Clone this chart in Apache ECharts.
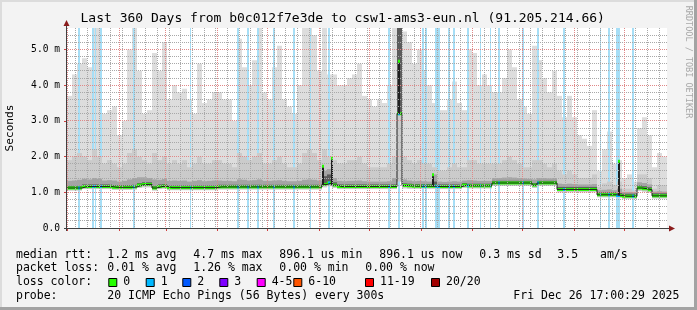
<!DOCTYPE html>
<html><head><meta charset="utf-8">
<script src="https://cdn.jsdelivr.net/npm/echarts@6/dist/echarts.min.js"></script>
<style>html,body{margin:0;padding:0;background:#f3f3f3}#c{width:697px;height:310px}</style>
</head><body><div id="c"></div>
<script>
// ================= DATA =================
// x unit: days since start of graph (2024-12-31 17:00); graph spans 360 days
const monthStartDoy = [0,31,59,90,120,151,181,212,243,273,304,334];   // day of 2025 at which each month starts
const monthLengths  = [31,28,31,30,31,30,31,31,30,31,30,31];
const monthLabels   = ['January 2025','','March 2025','','May 2025','','July 2025','','September 2025','','November 2025',''];
const firstMondayDoy = 5;   // 2025-01-06
const yMajorTicks = [0,1,2,3,4,5];

// 3-day bins, 120 bins; values in milliseconds
const maxRtt = [3.7,4.3,4.6,4.75,4.5,5.6,5.6,3.2,3.3,3.4,
 2.6,3.0,5.0,5.6,4.4,3.2,3.3,4.9,4.4,5.2,
 3.6,4.0,3.8,3.9,3.6,3.2,4.6,3.5,3.6,3.8,
 3.8,3.6,3.6,3.0,5.3,4.5,4.0,4.7,5.6,3.8,
 3.6,4.5,5.1,3.6,3.4,3.2,4.0,5.6,5.6,5.4,
 4.4,5.6,4.3,4.3,4.0,4.0,4.2,4.3,4.6,3.7,
 3.6,3.4,3.6,3.5,4.0,5.6,5.6,5.5,5.2,4.6,
 5.0,4.4,4.0,3.5,3.3,3.3,3.6,4.1,3.5,3.3,
 5.0,4.9,4.0,4.3,4.0,3.8,3.8,4.2,5.0,4.5,
 3.6,3.4,3.2,5.1,4.7,4.2,3.8,4.4,3.7,3.1,
 3.7,3.1,2.6,2.5,2.3,3.3,1.6,2.2,2.7,1.8,
 1.9,1.4,1.5,1.3,2.8,3.1,2.6,1.7,2.1,2.0];
const smokeMid = [1.9,2.0,2.1,2.0,1.9,2.2,2.0,1.8,1.9,1.8,
 1.7,1.8,2.1,2.2,2.0,1.9,1.8,2.1,1.9,2.0,
 1.8,1.9,1.8,1.9,1.7,1.8,2.0,1.8,1.8,1.9,
 1.9,1.8,1.8,1.7,2.1,2.0,1.9,2.0,2.1,1.8,
 1.8,1.9,2.0,1.8,1.7,1.7,1.8,2.1,2.2,2.1,
 1.9,2.2,2.0,1.9,1.8,1.8,1.9,1.9,2.0,1.8,
 1.7,1.7,1.7,1.7,1.8,2.0,5.6,2.0,1.9,1.8,
 1.9,1.8,1.8,1.7,1.6,1.6,1.7,1.8,1.7,1.7,
 1.9,1.9,1.8,1.8,1.8,1.8,1.8,1.9,2.0,1.9,
 1.8,1.7,1.7,1.9,1.9,1.8,1.7,1.8,1.6,1.5,
 1.6,1.5,1.4,1.4,1.4,1.5,1.15,1.25,1.3,1.2,
 1.3,1.1,1.1,1.05,1.5,1.5,1.4,1.1,1.2,1.2];
const smokeInner = [1.32,1.33,1.35,1.38,1.36,1.40,1.38,1.33,1.34,1.33,
 1.30,1.32,1.36,1.40,1.42,1.42,1.40,1.36,1.35,1.37,
 1.32,1.33,1.32,1.33,1.30,1.32,1.34,1.31,1.32,1.33,
 1.33,1.32,1.32,1.31,1.36,1.35,1.33,1.34,1.36,1.32,
 1.32,1.33,1.34,1.32,1.31,1.31,1.32,1.35,1.36,1.35,
 1.33,1.60,1.65,1.40,1.32,1.31,1.32,1.32,1.33,1.31,
 1.30,1.30,1.30,1.30,1.31,1.40,5.60,1.36,1.33,1.31,
 1.32,1.31,1.30,1.50,1.30,1.29,1.30,1.31,1.30,1.33,
 1.34,1.33,1.32,1.32,1.32,1.40,1.40,1.41,1.42,1.41,
 1.40,1.39,1.38,1.36,1.40,1.40,1.39,1.40,1.24,1.23,
 1.24,1.23,1.22,1.22,1.22,1.23,1.06,1.07,1.08,1.06,
 1.10,1.01,1.01,1.00,1.28,1.26,1.22,1.02,1.03,1.02];
const smokeCore = [1.18,1.18,1.18,1.22,1.22,1.22,1.22,1.22,1.22,1.20,
 1.20,1.20,1.20,1.21,1.26,1.28,1.28,1.18,1.22,1.23,
 1.19,1.19,1.19,1.19,1.19,1.19,1.19,1.19,1.19,1.19,
 1.21,1.21,1.21,1.21,1.21,1.21,1.21,1.21,1.21,1.21,
 1.21,1.21,1.21,1.21,1.21,1.21,1.21,1.21,1.21,1.21,
 1.21,1.45,1.50,1.28,1.22,1.22,1.22,1.22,1.22,1.22,
 1.22,1.22,1.22,1.22,1.22,1.22,5.60,1.25,1.24,1.23,
 1.23,1.23,1.23,1.30,1.22,1.22,1.22,1.22,1.22,1.26,
 1.24,1.24,1.24,1.24,1.24,1.32,1.32,1.32,1.32,1.32,
 1.32,1.32,1.32,1.26,1.32,1.32,1.32,1.32,1.15,1.15,
 1.15,1.15,1.15,1.15,1.15,1.15,1.00,1.00,1.00,1.00,
 0.98,0.96,0.96,0.96,1.19,1.17,1.14,0.97,0.97,0.97];
const medianRtt = [1.12,1.12,1.12,1.16,1.16,1.16,1.16,1.16,1.16,1.14,
 1.14,1.14,1.14,1.15,1.20,1.22,1.22,1.12,1.16,1.17,
 1.13,1.13,1.13,1.13,1.13,1.13,1.13,1.13,1.13,1.13,
 1.15,1.15,1.15,1.15,1.15,1.15,1.15,1.15,1.15,1.15,
 1.15,1.15,1.15,1.15,1.15,1.15,1.15,1.15,1.15,1.15,
 1.15,1.22,1.26,1.20,1.16,1.16,1.16,1.16,1.16,1.16,
 1.16,1.16,1.16,1.16,1.16,1.16,3.20,1.19,1.18,1.17,
 1.17,1.17,1.17,1.17,1.16,1.16,1.16,1.16,1.16,1.20,
 1.18,1.18,1.18,1.18,1.18,1.26,1.26,1.26,1.26,1.26,
 1.26,1.26,1.26,1.20,1.26,1.26,1.26,1.26,1.08,1.08,
 1.08,1.08,1.08,1.08,1.08,1.08,0.93,0.93,0.93,0.93,
 0.91,0.89,0.89,0.89,1.12,1.10,1.07,0.90,0.90,0.90];
const minRtt = [1.05,1.05,1.05,1.09,1.09,1.09,1.09,1.09,1.09,1.07,
 1.07,1.07,1.07,1.08,1.12,1.14,1.14,1.05,1.09,1.10,
 1.06,1.06,1.06,1.06,1.06,1.06,1.06,1.06,1.06,1.06,
 1.08,1.08,1.08,1.08,1.08,1.08,1.08,1.08,1.08,1.08,
 1.08,1.08,1.08,1.08,1.08,1.08,1.08,1.08,1.08,1.08,
 1.08,1.14,1.17,1.12,1.09,1.09,1.09,1.09,1.09,1.09,
 1.09,1.09,1.09,1.09,1.09,1.09,1.30,1.11,1.10,1.10,
 1.10,1.10,1.10,1.10,1.09,1.09,1.09,1.09,1.09,1.12,
 1.11,1.11,1.11,1.11,1.11,1.18,1.18,1.18,1.18,1.18,
 1.18,1.18,1.18,1.12,1.18,1.18,1.18,1.18,1.00,1.00,
 1.00,1.00,1.00,1.00,1.00,1.00,0.86,0.86,0.86,0.86,
 0.84,0.82,0.82,0.82,1.04,1.02,1.00,0.83,0.83,0.83];
// single 12h median spikes: day since start, value (ms)
const spikeDays   = [153.6, 159.0, 199.2, 219.6, 330.9];
const spikeValues = [1.73, 1.95, 4.67, 1.49, 1.87];
// time slots with packet loss (1/20) : day since start
const lossDays = [7,15.5,17,20.5,40,74,102.5,108.5,114.5,124,136,146,157,193,199,213.5,215.5,221.5,222.5,223.5,
                  229,232,240.5,248,254,259,273.5,282.5,298,320,325,330,331,339.5];

const titleText = 'Last 360 Days from b0c012f7e3de to csw1-ams3-eun.nl (91.205.214.66)';
const legendRows = [
  ['median rtt:', '1.2 ms avg', '4.7 ms max', '896.1 us min', '896.1 us now', '0.3 ms sd', '3.5', 'am/s'],
  ['packet loss:', '0.01 % avg', '1.26 % max', '0.00 % min', '0.00 % now'],
  ['probe:', '20 ICMP Echo Pings (56 Bytes) every 300s', 'Fri Dec 26 17:00:29 2025']
];
const lossColorLabels = ['0','1','2','3','4-5','6-10','11-19','20/20'];
const lossColors = ['#26ff00','#00b8ff','#0059ff','#7e00ff','#ff00ff','#ff5500','#ff0000','#a10000'];

// ================= LAYOUT / STYLE =================
const START_OFFSET = 7/24;  // graph starts at 17:00 of previous day
const BIN = 3, X_MAX = 360, Y_MAX = 5.6;
const G = {left: 67, top: 28, width: 600, height: 200};
const LOSS_BG = '#a6def6';
const MGRID = '#e08888', MINGRID = '#a8a8a8';

const monthTicks = monthStartDoy.map(d => d + START_OFFSET);
const labelPos = [], labelTxt = [];
monthStartDoy.forEach((d, i) => { if (monthLabels[i]) { labelPos.push(d + monthLengths[i] / 2 + START_OFFSET); labelTxt.push(monthLabels[i]); } });
const weekTicks = [];
for (let d = firstMondayDoy; d < 360; d += 7) weekTicks.push(d + START_OFFSET);
const yMinorTicks = [];
for (let k = 1; k < 28; k++) { if (k % 5) yMinorTicks.push(k / 5); }
const yMajorLines = yMajorTicks.filter(v => v > 0);

function band(lo, hi, color) {
  return {
    type: 'custom', silent: true, clip: true, z: 2,
    data: hi.map((h, i) => [i * BIN, (i + 1) * BIN, lo[i], Math.min(h, Y_MAX)]),
    renderItem: (p, api) => {
      const a = api.coord([api.value(0), api.value(3)]);
      const b = api.coord([api.value(1), api.value(2)]);
      const x0 = Math.round(a[0]), x1 = Math.round(b[0]);
      return {type: 'rect', shape: {x: x0, y: a[1], width: x1 - x0, height: b[1] - a[1]}, style: {fill: color}};
    }
  };
}
function medianBand(color, days, vals, w) {
  return {
    type: 'custom', silent: true, clip: true, z: 3,
    data: days.map((d, i) => [d, d + w, vals[i]]),
    renderItem: (p, api) => {
      const a = api.coord([api.value(0), api.value(2)]);
      const b = api.coord([api.value(1), api.value(2)]);
      const x0 = Math.round(a[0]), x1 = Math.max(Math.round(b[0]), x0 + 1);
      return {type: 'rect', shape: {x: x0, y: a[1] - 1.5, width: x1 - x0, height: 3}, style: {fill: color}};
    }
  };
}
// dotted grid lines, drawn as rows of 1px dots (like rrdtool's grid-dash 1:1)
function dottedV(values, color, z) {
  return {
    type: 'custom', silent: true, clip: false, z: z,
    data: values.map((v, i) => [v, Y_MAX / 2]),
    renderItem: (p, api) => {
      const x = Math.floor(api.coord([values[p.dataIndex], 0])[0]);
      const yTop = Math.round(api.coord([0, Y_MAX])[1]), yBot = Math.round(api.coord([0, 0])[1]);
      const dots = [];
      for (let y = yTop; y < yBot; y += 2) dots.push({type: 'rect', shape: {x: x, y: y, width: 1, height: 1}, style: {fill: color}});
      return {type: 'group', children: dots};
    }
  };
}
function dottedH(values, color, z) {
  return {
    type: 'custom', silent: true, clip: false, z: z,
    data: values.map((v, i) => [X_MAX / 2, v]),
    renderItem: (p, api) => {
      const y = Math.floor(api.coord([0, values[p.dataIndex]])[1]);
      const xL = Math.round(api.coord([0, 0])[0]), xR = Math.round(api.coord([X_MAX, 0])[0]);
      const dots = [];
      for (let x = xL + 1; x < xR; x += 2) dots.push({type: 'rect', shape: {x: x, y: y, width: 1, height: 1}, style: {fill: color}});
      return {type: 'group', children: dots};
    }
  };
}
const binStarts = medianRtt.map((m, i) => i * BIN);
const medAt = d => medianRtt[Math.min(medianRtt.length - 1, Math.floor(d / BIN))];

const series = [
  band(minRtt, maxRtt, '#dddddd'),
  {
    type: 'custom', silent: true, clip: true, z: 2,
    data: lossDays.map(d => [d, 0]),
    renderItem: (p, api) => {
      const cs = p.coordSys;
      const a = api.coord([api.value(0) - 0.5, 0]);
      const b = api.coord([api.value(0) + 0.5, 0]);
      const x0 = Math.round(a[0]), x1 = Math.max(Math.round(b[0]), x0 + 1);
      return {type: 'rect', shape: {x: x0, y: cs.y, width: x1 - x0, height: cs.height}, style: {fill: LOSS_BG}};
    }
  },
  band(minRtt, smokeMid, '#cbcbcb'),
  band(medianRtt, smokeInner, '#a4a4a4'),
  band(medianRtt, smokeCore, '#5c5c5c'),
  {
    type: 'line', step: 'end', symbol: 'none', silent: true, z: 3,
    data: binStarts.map((x, i) => [x, medianRtt[i]]).concat([[X_MAX, medianRtt[medianRtt.length - 1]]]),
    lineStyle: {color: '#202020', width: 1}
  },
  medianBand(lossColors[0], binStarts, medianRtt, BIN),
  medianBand(lossColors[1], lossDays.map(d => d - 0.5), lossDays.map(medAt), 1),
  {
    type: 'custom', silent: true, clip: true, z: 3,
    data: spikeDays.map((d, i) => [d, spikeValues[i], medAt(d)]),
    renderItem: (p, api) => {
      const top = api.coord([api.value(0), api.value(1)]);
      const bot = api.coord([api.value(0), api.value(2)]);
      const x = Math.round(top[0]);
      return {type: 'group', children: [
        {type: 'rect', shape: {x: x - 1, y: top[1], width: 2, height: bot[1] - top[1]}, style: {fill: '#202020'}},
        {type: 'rect', shape: {x: x - 1, y: top[1] - 1.5, width: 2, height: 3}, style: {fill: lossColors[0]}}
      ]};
    }
  },
  dottedV(weekTicks, MINGRID, 4),
  dottedH(yMinorTicks, MINGRID, 4),
  dottedV(monthTicks, MGRID, 5),
  dottedH(yMajorLines, MGRID, 5)
];

const graphic = [
  {type: 'rect', z: 100, shape: {x: 0, y: 0, width: 697, height: 2}, style: {fill: '#dcdcdc'}},
  {type: 'rect', z: 100, shape: {x: 0, y: 0, width: 2, height: 310}, style: {fill: '#dcdcdc'}},
  {type: 'rect', z: 100, shape: {x: 0, y: 307, width: 697, height: 3}, style: {fill: '#a3a3a3'}},
  {type: 'rect', z: 100, shape: {x: 694, y: 0, width: 3, height: 310}, style: {fill: '#a3a3a3'}},
  // axes with arrows
  {type: 'line', z: 100, shape: {x1: 66.5, y1: 231, x2: 66.5, y2: 24}, style: {stroke: '#404040', lineWidth: 1}},
  {type: 'polygon', z: 100, shape: {points: [[63.5, 26], [69.5, 26], [66.5, 20]]}, style: {fill: '#8b1c1c'}},
  {type: 'line', z: 100, shape: {x1: 64, y1: 228.5, x2: 670, y2: 228.5}, style: {stroke: '#404040', lineWidth: 1}},
  {type: 'polygon', z: 100, shape: {points: [[669, 225.5], [669, 231.5], [675, 228.5]]}, style: {fill: '#8b1c1c'}},
  {type: 'text', z: 100, x: 80.5, y: 19, style: {text: titleText, font: '13px "DejaVu Sans Mono"', fill: '#000', verticalAlign: 'middle'}},
  {type: 'text', z: 100, x: 10, y: 128, rotation: Math.PI / 2, style: {text: 'Seconds', font: '11.1px "DejaVu Sans Mono"', fill: '#000', align: 'center', verticalAlign: 'middle'}},
  {type: 'text', z: 100, x: 688, y: 62, rotation: -Math.PI / 2, style: {text: 'RRDTOOL / TOBI OETIKER', font: '8.5px "DejaVu Sans Mono"', fill: '#a8a8a8', align: 'center', verticalAlign: 'middle'}}
];
const legendX = [
  [16, 107.3, 193.3, 279.3, 379.3, 479.3, 557.3, 600],
  [16, 107.3, 193.3, 279.3, 365.3],
  [16, 107.3, 513.3]
];
const legendY = [255, 268.5, 296];
legendRows.forEach((row, r) => row.forEach((t, c) => graphic.push({
  type: 'text', z: 100, x: legendX[r][c], y: legendY[r],
  style: {text: t, font: '11.5px "DejaVu Sans Mono"', fill: '#000', verticalAlign: 'middle'}
})));
graphic.push({type: 'text', z: 100, x: 16, y: 282.3, style: {text: 'loss color:', font: '11.5px "DejaVu Sans Mono"', fill: '#000', verticalAlign: 'middle'}});
const boxX = [108.3, 145.7, 182.3, 219.3, 256.7, 293.3, 365, 431];
lossColorLabels.forEach((t, i) => {
  graphic.push({type: 'rect', z: 100, shape: {x: boxX[i] + 0.5, y: 278.5, width: 8, height: 8}, style: {fill: lossColors[i], stroke: '#000', lineWidth: 1}});
  graphic.push({type: 'text', z: 100, x: boxX[i] + 15, y: 282.3, style: {text: t, font: '11.5px "DejaVu Sans Mono"', fill: '#000', verticalAlign: 'middle'}});
});

const option = {
  animation: false,
  backgroundColor: '#f3f3f3',
  grid: Object.assign({show: true, backgroundColor: '#ffffff', borderWidth: 0, outerBoundsMode: 'none', containLabel: false}, G),
  xAxis: [
    {type: 'value', min: 0, max: X_MAX, z: 10, position: 'bottom',
     axisLine: {show: false},
     axisTick: {show: true, customValues: monthTicks, length: 3, lineStyle: {color: '#d04040'}},
     axisLabel: {show: true, customValues: labelPos, formatter: (v, i) => labelTxt[i], margin: 5,
                 fontFamily: 'DejaVu Sans Mono', fontSize: 9.8, color: '#000'},
     splitLine: {show: false}}
  ],
  yAxis: [
    {type: 'value', min: 0, max: Y_MAX, z: 10, position: 'left',
     axisLine: {show: false},
     axisTick: {show: true, customValues: yMajorTicks, length: 3, lineStyle: {color: '#d04040'}},
     axisLabel: {show: true, customValues: yMajorTicks, margin: 7, fontFamily: 'DejaVu Sans Mono', fontSize: 9.6, color: '#000',
                 formatter: v => v === 0 ? '0.0' : v.toFixed(1) + ' m'},
     splitLine: {show: false}}
  ],
  series: series,
  graphic: graphic
};
const chart = echarts.init(document.getElementById('c'), null, {width: 697, height: 310});
chart.setOption(option);
</script>
</body></html>
